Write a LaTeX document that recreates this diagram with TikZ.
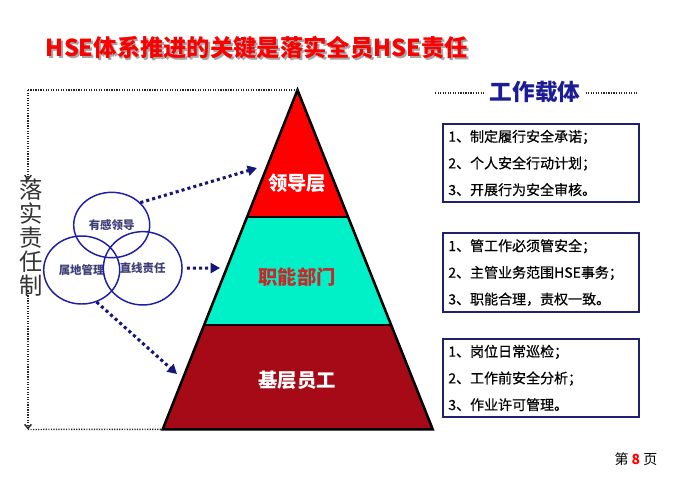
\documentclass[tikz,border=0pt]{standalone}
\usepackage{fontspec}
\setmainfont{Noto Sans CJK SC}
\newfontfamily\carrierfont{Noto Sans CJK SC}[FakeBold=0.6]
\usetikzlibrary{shapes.geometric,arrows.meta}
\definecolor{titlered}{RGB}{250,0,0}
\definecolor{carrierblue}{RGB}{28,28,150}
\definecolor{arrowblue}{RGB}{22,22,120}
\definecolor{vennblue}{RGB}{30,30,165}
\definecolor{venntext}{RGB}{62,62,120}
\definecolor{boxblue}{RGB}{32,32,110}
\definecolor{leadred}{RGB}{255,0,0}
\definecolor{deptcyan}{RGB}{0,240,200}
\definecolor{staffred}{RGB}{165,10,22}
\definecolor{depttext}{RGB}{200,40,40}

\begin{document}
\begin{tikzpicture}[x=0.75pt,y=0.75pt,yscale=-1,
  frameline/.style={line width=1.1pt,dash pattern=on 0.9pt off 1pt,black!85},
  dotarrow/.style={line width=2.3pt,dash pattern=on 2.3pt off 2.3pt,arrowblue,
    -{Triangle[length=7pt,width=7.5pt]}},
  venn/.style={ellipse,draw=vennblue,line width=1.1pt,inner sep=0pt,
    minimum width=57pt,minimum height=51pt,text=venntext,
    font=\fontsize{8.6}{10}\selectfont\bfseries},
  layer/.style={font=\fontsize{14.5}{16}\selectfont\bfseries},
  carrier/.style={draw=boxblue,line width=1.4pt,minimum width=147.5pt,
    minimum height=59pt,inner xsep=4pt,text width=139pt,align=left,
    font=\carrierfont\fontsize{10.5}{20}\selectfont}]
\useasboundingbox (0,0) rectangle (700,489);

% Text Node
\node[font=\fontsize{17.5}{20}\selectfont\bfseries,text=black!35] (titleshadow) at (259,50) {HSE体系推进的关键是落实全员HSE责任};
\node[font=\fontsize{17.5}{20}\selectfont\bfseries,text=titlered] (title) at (257,48) {HSE体系推进的关键是落实全员HSE责任};

%Pyramid
\coordinate (apex) at (297.5,90);
\coordinate (baseL) at (162.7,429.3);
\coordinate (baseR) at (432.7,429.3);
\coordinate (cutLa) at (247,216.7);
\coordinate (cutRa) at (348,216.7);
\coordinate (cutLb) at (204,325);
\coordinate (cutRb) at (391,325);
\fill[leadred] (apex) -- (cutRa) -- (cutLa) -- cycle;
\fill[deptcyan] (cutLa) -- (cutRa) -- (cutRb) -- (cutLb) -- cycle;
\fill[staffred] (cutLb) -- (cutRb) -- (baseR) -- (baseL) -- cycle;
\draw[line width=1.6pt] (cutLa) -- (cutRa);
\draw[line width=1.6pt] (cutLb) -- (cutRb);
\draw[line width=1.9pt,line join=miter] (apex) -- (baseR) -- (baseL) -- cycle;

% Text Node
\node[layer,text=white] (lead) at (297,183) {领导层};
\node[layer,text=depttext] (dept) at (297,277) {职能部门};
\node[layer,text=white] (staff) at (297,380) {基层员工};

%Left frame
\coordinate (topcorner) at (28,90);
\coordinate (botcorner) at (28,429.5);
\node[font=\fontsize{17.5}{18}\selectfont,text=black!80,align=center,inner sep=0pt] (lsz) at (31,238) {落\\实\\责\\任\\制};
\draw[frameline] (apex) -- (topcorner);
\draw[frameline,-{Straight Barb[length=3pt,width=5pt]}] (topcorner) -- ([yshift=1]topcorner |- lsz.north);
\draw[frameline,-{Straight Barb[length=3pt,width=5pt]}] ([yshift=-5]lsz.south -| botcorner) -- (botcorner);
\draw[frameline] (botcorner) -- (baseL);

%Circles
\node[venn,minimum height=49pt] (yg) at (111.7,225) {有感领导};
\node[venn] (sd) at (81.7,270) {属地管理};
\node[venn,minimum width=59pt,minimum height=55pt] (zx) at (142.7,268.3) {直线责任};

%Arrows
\coordinate (tipLead) at (257,168);
\coordinate (tipDept) at (220,268);
\coordinate (tipStaff) at (177,374);
\draw[dotarrow] (yg.38) -- (tipLead);
\draw[dotarrow,shorten <=3pt] (zx) -- (tipDept);
\draw[dotarrow] (sd.-65) -- (tipStaff);

% Text Node
\node[font=\fontsize{17}{20}\selectfont\bfseries,text=carrierblue,inner xsep=3.75pt] (gz) at (535,92) {工作载体};
\coordinate (gzleft) at (435,93);
\coordinate (gzright) at (638,93);
\draw[frameline] (gzleft) -- (gz.west |- gzleft);
\draw[frameline] (gz.east |- gzright) -- (gzright);

%Boxes
\node[carrier] (boxLead) at (541,163) {1、制定履行安全承诺；\\2、个人安全行动计划；\\3、开展行为安全审核。};
\node[carrier] (boxDept) at (541,272.5) {1、管工作必须管安全；\\2、主管业务范围HSE事务；\\3、职能合理，责权一致。};
\node[carrier] (boxStaff) at (541,378) {1、岗位日常巡检；\\2、工作前安全分析；\\3、作业许可管理。};

% Text Node
\node[font=\fontsize{10.5}{12}\selectfont] (page) at (636,459) {第 \textcolor{red}{\bfseries 8} 页};

\end{tikzpicture}
\end{document}
